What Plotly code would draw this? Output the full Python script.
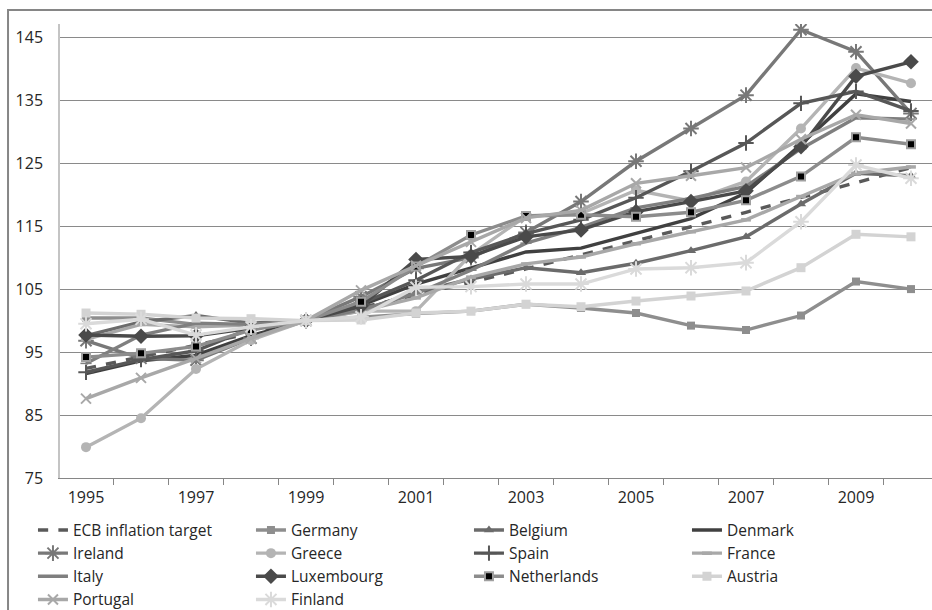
import plotly.graph_objects as go

years = list(range(1995, 2011))
tick_years = [1995, 1997, 1999, 2001, 2003, 2005, 2007, 2009]
tick_labels = [str(y) for y in tick_years]

ecb         = [92.4, 94.2, 96.1, 98.0, 100.0, 102.0, 104.0, 106.1, 108.2, 110.4, 112.6, 114.9, 117.2, 119.5, 121.9, 124.3]
germany     = [100.4, 100.4, 99.4, 99.3, 100.0, 100.6, 101.1, 101.5, 102.6, 102.0, 101.2, 99.2, 98.5, 100.8, 106.2, 105.0]
belgium     = [97.6, 99.8, 100.8, 99.6, 100.0, 101.6, 104.5, 106.6, 108.4, 107.6, 109.1, 111.1, 113.3, 118.5, 123.4, 123.0]
denmark     = [91.6, 93.6, 94.5, 97.6, 100.0, 102.4, 105.8, 108.3, 110.9, 111.5, 113.9, 116.2, 120.3, 128.0, 136.0, 134.8]
ireland     = [96.8, 94.0, 93.7, 97.2, 100.0, 103.8, 108.3, 110.0, 114.0, 118.9, 125.3, 130.5, 135.8, 146.2, 142.7, 132.9]
greece      = [79.9, 84.5, 92.3, 96.9, 100.0, 101.5, 101.5, 110.5, 116.6, 117.0, 120.7, 119.0, 122.1, 130.5, 140.1, 137.7]
spain       = [91.8, 93.8, 95.2, 98.8, 100.0, 102.7, 106.4, 110.8, 113.8, 116.0, 119.5, 123.7, 128.2, 134.5, 136.4, 133.3]
france      = [97.0, 99.4, 99.0, 99.3, 100.0, 101.5, 103.6, 106.9, 109.0, 110.1, 112.2, 114.1, 116.0, 119.7, 123.4, 124.4]
italy       = [93.2, 97.7, 99.6, 99.4, 100.0, 101.7, 104.3, 108.0, 112.3, 114.8, 117.9, 119.4, 121.3, 127.3, 132.2, 132.0]
luxembourg  = [97.7, 97.5, 97.6, 98.8, 100.0, 102.3, 109.7, 110.2, 113.3, 114.4, 117.3, 118.9, 120.6, 127.6, 138.8, 141.1]
netherlands = [94.2, 94.8, 95.9, 98.5, 100.0, 103.0, 108.6, 113.6, 116.6, 116.8, 116.5, 117.2, 119.1, 122.9, 129.1, 128.0]
austria     = [101.2, 101.0, 100.4, 100.3, 100.0, 100.1, 101.2, 101.5, 102.6, 102.2, 103.1, 103.9, 104.7, 108.4, 113.7, 113.3]
portugal    = [87.6, 90.9, 94.0, 97.2, 100.0, 104.8, 108.7, 112.5, 116.3, 117.5, 121.8, 123.0, 124.3, 128.8, 132.7, 131.3]
finland     = [99.5, 100.2, 97.7, 99.0, 100.0, 100.6, 105.3, 105.4, 105.8, 105.8, 108.2, 108.4, 109.2, 115.7, 124.7, 122.6]

series = [
    ("ECB inflation target", ecb, "#595959", dict(), "dash"),
    ("Germany", germany, "#8e8e8e", dict(symbol="square", size=8, color="#8e8e8e"), "solid"),
    ("Belgium", belgium, "#6b6b6b", dict(symbol="triangle-up", size=9, color="#6b6b6b"), "solid"),
    ("Denmark", denmark, "#404040", dict(), "solid"),
    ("Ireland", ireland, "#787878", dict(symbol="asterisk-open", size=13, line=dict(color="#787878", width=2)), "solid"),
    ("Greece", greece, "#b4b4b4", dict(symbol="circle", size=10, color="#b4b4b4"), "solid"),
    ("Spain", spain, "#575757", dict(symbol="cross-thin-open", size=11, line=dict(color="#575757", width=2)), "solid"),
    ("France", france, "#a8a8a8", dict(symbol="line-ew-open", size=7, line=dict(color="#111111", width=3.5)), "solid"),
    ("Italy", italy, "#7f7f7f", dict(symbol="line-ew-open", size=8, line=dict(color="#ffffff", width=1.5)), "solid"),
    ("Luxembourg", luxembourg, "#4a4a4a", dict(symbol="diamond", size=12, color="#4a4a4a"), "solid"),
    ("Netherlands", netherlands, "#8c8c8c", dict(symbol="square", size=8, color="#000000", line=dict(color="#a0a0a0", width=2)), "solid"),
    ("Austria", austria, "#d3d3d3", dict(symbol="square", size=9, color="#d3d3d3"), "solid"),
    ("Portugal", portugal, "#a8a8a8", dict(symbol="x-thin-open", size=10, line=dict(color="#a8a8a8", width=2)), "solid"),
    ("Finland", finland, "#dadada", dict(symbol="asterisk-open", size=13, line=dict(color="#dadada", width=2)), "solid"),
]

fig = go.Figure()
for name, vals, col, mk, dash in series:
    mode = "lines+markers" if mk else "lines"
    fig.add_trace(go.Scatter(
        x=years, y=vals, name=name, mode=mode,
        line=dict(color=col, width=3.4, dash=dash),
        marker=mk if mk else None,
    ))

FONT = "'Open Sans', 'Noto Sans', sans-serif"

fig.update_layout(
    width=932, height=610,
    margin=dict(l=60, r=0, t=24, b=132, autoexpand=False),
    paper_bgcolor="white", plot_bgcolor="white",
    font=dict(family=FONT, size=16, color="#262626"),
    showlegend=True,
    legend=dict(
        orientation="h", x=-0.031, xanchor="left", y=-0.078, yanchor="top",
        entrywidth=173, entrywidthmode="pixels",
        font=dict(family=FONT, size=15.5, color="#262626"),
        itemwidth=30, tracegroupgap=0, bgcolor="rgba(0,0,0,0)",
    ),
    xaxis=dict(
        range=[1994.527, 2010.382], showgrid=False, zeroline=False,
        tickmode="array", tickvals=tick_years, ticktext=tick_labels,
        ticks="", showline=True, linecolor="#868686", linewidth=1,
        ticklabelstandoff=5,
        minor=dict(tickmode="array", tickvals=[y - 0.5 for y in years] + [2010.5],
                   ticks="outside", ticklen=6, tickcolor="#868686", tickwidth=1, showgrid=False),
    ),
    yaxis=dict(
        range=[75, 147.1], tickvals=[75, 85, 95, 105, 115, 125, 135, 145],
        showgrid=True, gridcolor="#8a8a8a", gridwidth=1, zeroline=False,
        showline=True, linecolor="#c4c4c4", linewidth=1.5,
        ticks="", ticklabelstandoff=12,
    ),
    shapes=[
        dict(type="rect", xref="paper", yref="paper", x0=-0.0596, x1=1.05, y0=-0.31, y1=1.0308,
             line=dict(color="#868686", width=2), fillcolor="rgba(0,0,0,0)", layer="below"),
    ],
)

fig.write_html("out.html", config={"displayModeBar": False},
               post_script="document.body.style.margin='0px';document.body.style.overflow='hidden';")
